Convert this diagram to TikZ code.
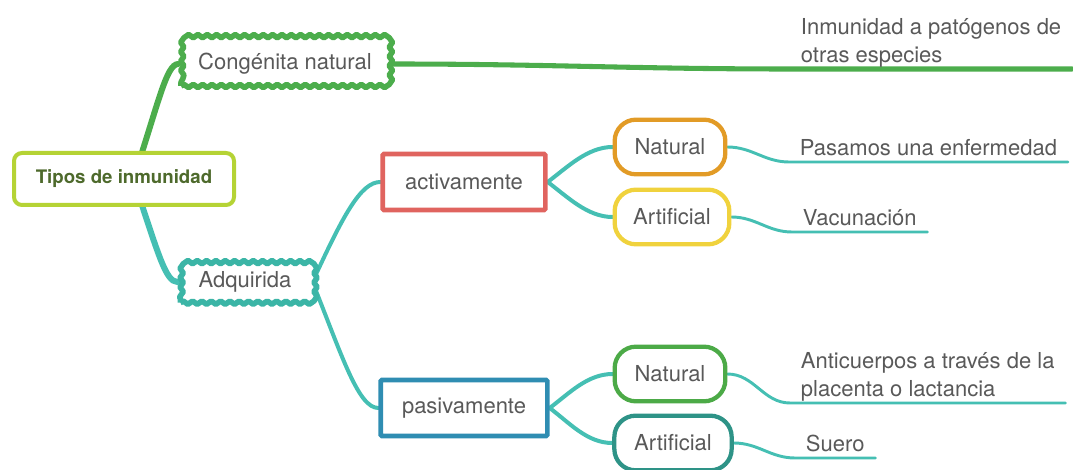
\documentclass[tikz,border=0pt]{standalone}
\usepackage{fontspec}
\setmainfont{TeX Gyre Heros}
\usetikzlibrary{decorations.pathmorphing,backgrounds}

\definecolor{rootlime}{HTML}{B5D335}
\definecolor{roottext}{HTML}{4E6A2C}
\definecolor{congreen}{HTML}{4CAD4C}
\definecolor{adqteal}{HTML}{3BB5A6}
\definecolor{lineteal}{HTML}{45BFB3}
\definecolor{actred}{HTML}{E0645F}
\definecolor{pasblue}{HTML}{2F8DB2}
\definecolor{natorange}{HTML}{E29B26}
\definecolor{artyellow}{HTML}{F0D23D}
\definecolor{natgreen}{HTML}{4CAA47}
\definecolor{artteal}{HTML}{2E9387}
\definecolor{txtgray}{HTML}{595959}

\tikzset{
    rootbox/.style={draw=rootlime, fill=white, line width=3pt, rounded corners=6pt,
        minimum width=165pt, minimum height=39pt, text=roottext,
        font=\fontsize{14}{16}\selectfont\bfseries},
    cloudbox/.style={draw, fill=white, line width=4.2pt, line join=round,
        decorate, decoration={snake, segment length=7pt, amplitude=1.2pt}},
    sqbox/.style={draw, fill=white, line width=3.5pt, rounded corners=1pt, minimum height=42pt},
    pillbox/.style={draw, fill=white, line width=3.2pt, rounded corners=16pt, minimum height=41pt},
    leaf/.style={anchor=south west, align=left, inner xsep=8pt, inner ysep=0pt, text depth=5pt,
        font=\fontsize{16.5}{21}\selectfont},
    branch/.style={line cap=round},
}

\begin{document}
\begin{tikzpicture}[x=0.75pt, y=-0.75pt, every node/.style={font=\fontsize{16.5}{20}\selectfont, text=txtgray}]

    \useasboundingbox (0,0) rectangle (1073,470);

    % --- Main nodes ---
    \node[rootbox] (root) at (124,179) {Tipos de inmunidad};
    \node[cloudbox, draw=congreen, minimum width=156pt, minimum height=33pt] (cong) at (285,64) {Congénita natural};
    \node[cloudbox, draw=adqteal, minimum width=97pt, minimum height=31pt] (adq) at (245,282) {Adquirida};

    % --- Second level ---
    \node[sqbox, draw=actred, minimum width=122pt] (act) at (464,182) {activamente};
    \node[sqbox, draw=pasblue, minimum width=125pt] (pas) at (464,408) {pasivamente};

    % --- Third level ---
    \node[pillbox, draw=natorange, minimum width=83pt] (natact) at (670,147) {Natural};
    \node[pillbox, draw=artyellow, minimum width=86pt] (artact) at (672,217) {Artificial};
    \node[pillbox, draw=natgreen, minimum width=83pt] (natpas) at (670,374) {Natural};
    \node[pillbox, draw=artteal, minimum width=88pt] (artpas) at (673,443) {Artificial};

    % --- Leaves (text over a line) ---
    \node[leaf] (lcong) at (790,69) {Inmunidad a patógenos de\\otras especies};
    \node[leaf] (lnatact) at (789,162) {Pasamos una enfermedad};
    \node[leaf] (lartact) at (792,232) {Vacunación};
    \node[leaf] (lnatpas) at (790,403) {Anticuerpos a través de la\\placenta o lactancia};
    \node[leaf] (lartpas) at (795,458) {Suero};

    % --- Connectors, behind the boxes ---
    \begin{pgfonlayer}{background}
        \draw[branch, congreen, line width=4.5pt] ([xshift=7pt]root.center) .. controls +(25,-75) and +(-12,0) .. (cong.west);
        \draw[branch, lineteal, line width=4.5pt] ([xshift=7pt]root.center) .. controls +(25,75) and +(-12,0) .. (adq.west);

        \draw[branch, lineteal, line width=3pt] (adq.east) .. controls +(30,-65) and +(-20,0) .. (act.west);
        \draw[branch, lineteal, line width=3pt] (adq.east) .. controls +(30,75) and +(-20,0) .. (pas.west);

        \draw[branch, lineteal, line width=3pt] (act.east) .. controls +(20,-15) and +(-25,0) .. (natact.west);
        \draw[branch, lineteal, line width=3pt] (act.east) .. controls +(20,15) and +(-25,0) .. (artact.west);
        \draw[branch, lineteal, line width=3pt] (pas.east) .. controls +(20,-15) and +(-25,0) .. (natpas.west);
        \draw[branch, lineteal, line width=3pt] (pas.east) .. controls +(20,15) and +(-25,0) .. (artpas.west);

        % leaf lines
        \draw[branch, congreen, line width=3.8pt] (cong.east) to[out=0, in=180] (lcong.south west) -- (lcong.south east);
        \draw[branch, lineteal, line width=2.2pt] (natact.east) to[out=0, in=180] (lnatact.south west) -- (lnatact.south east);
        \draw[branch, lineteal, line width=2.2pt] (artact.east) to[out=0, in=180] (lartact.south west) -- (lartact.south east);
        \draw[branch, lineteal, line width=2.2pt] (natpas.east) to[out=0, in=180] (lnatpas.south west) -- (lnatpas.south east);
        \draw[branch, lineteal, line width=2.2pt] (artpas.east) to[out=0, in=180] (lartpas.south west) -- (lartpas.south east);
    \end{pgfonlayer}

\end{tikzpicture}
\end{document}
